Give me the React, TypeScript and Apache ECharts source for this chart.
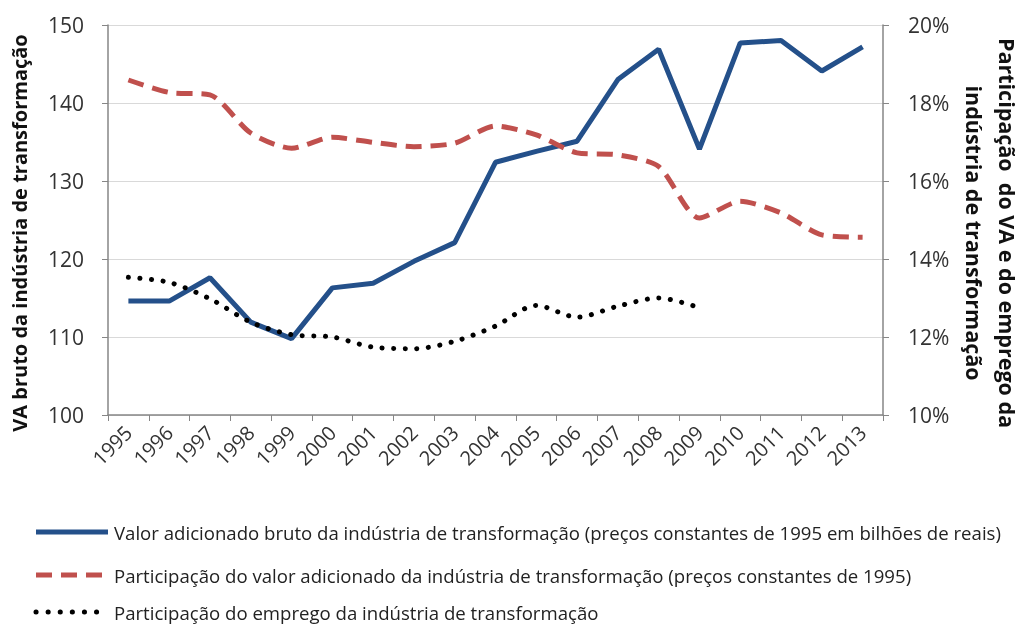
import React, { useEffect, useRef } from "react";
import * as echarts from "echarts";

const years = ["1995","1996","1997","1998","1999","2000","2001","2002","2003","2004","2005","2006","2007","2008","2009","2010","2011","2012","2013"];
const vaBruto = [114.6,114.6,117.6,111.9,109.8,116.3,116.9,119.7,122.1,132.4,133.8,135.1,143.0,146.9,134.1,147.7,148.0,144.1,147.2];
const partVA = [18.59,18.27,18.21,17.23,16.84,17.12,16.99,16.88,16.97,17.41,17.18,16.72,16.67,16.37,15.05,15.48,15.18,14.62,14.56];
const partEmprego = [13.53,13.40,12.98,12.38,12.06,12.00,11.74,11.70,11.89,12.28,12.81,12.51,12.79,13.00,12.75,null,null,null,null];
const leftTicks = { min: 100, max: 150, interval: 10 };
const rightTicks = { min: 10, max: 20, interval: 2 };
const names = [
  "Valor adicionado bruto da indústria de transformação (preços constantes de 1995 em bilhões de reais)",
  "Participação do valor adicionado da indústria de transformação (preços constantes de 1995)",
  "Participação do emprego da indústria de transformação",
];
const colors = ["#24508a", "#c0504d", "#000000"];
const dashes: (number[] | undefined)[] = [undefined, [16, 9], [0.1, 11.5]];

const FONT = "'Open Sans', Lato, sans-serif";

export default function App() {
  const ref = useRef<HTMLDivElement>(null);
  useEffect(() => {
    if (!ref.current) return;
    const chart = echarts.init(ref.current, null, { renderer: "svg" });
    const legendY = [532, 575, 612];
    const legendGraphics: any[] = [];
    names.forEach((n, i) => {
      legendGraphics.push({
        type: "line",
        shape: { x1: 36, y1: legendY[i], x2: 108, y2: legendY[i] },
        style: {
          stroke: colors[i],
          lineWidth: i === 2 ? 5 : 5,
          lineDash: i === 2 ? [0.1, 12] : dashes[i],
          lineCap: i === 2 ? "round" : "butt",
        },
      });
      legendGraphics.push({
        type: "text",
        x: 114,
        y: legendY[i],
        style: {
          text: n,
          font: `18.6px ${FONT}`,
          fill: "#222",
          align: "left",
          verticalAlign: "middle",
        },
      });
    });
    chart.setOption({
      animation: false,
      textStyle: { fontFamily: FONT },
      grid: { left: 108, right: 139, top: 25, bottom: 210, containLabel: false },
      xAxis: {
        type: "category",
        data: years,
        boundaryGap: true,
        axisLine: { lineStyle: { color: "#868686", width: 1.5 } },
        axisTick: { show: true, length: 6, lineStyle: { color: "#868686" } },
        axisLabel: { rotate: 45, fontSize: 20, color: "#333", margin: 14, interval: 0 },
        splitLine: { show: false },
      },
      yAxis: [
        {
          type: "value",
          position: "left",
          min: leftTicks.min,
          max: leftTicks.max,
          interval: leftTicks.interval,
          axisLine: { show: true, lineStyle: { color: "#868686", width: 1.5 } },
          axisTick: { show: true, length: 6, lineStyle: { color: "#868686" } },
          axisLabel: { fontSize: 21, color: "#333", margin: 24 },
          splitLine: { show: true, lineStyle: { color: "#d9d9d9", width: 1.2 } },
        },
        {
          type: "value",
          position: "right",
          min: rightTicks.min,
          max: rightTicks.max,
          interval: rightTicks.interval,
          axisLine: { show: true, lineStyle: { color: "#868686", width: 1.5 } },
          axisTick: { show: true, length: 6, lineStyle: { color: "#868686" } },
          axisLabel: { fontSize: 21, color: "#333", margin: 25, formatter: "{value}%" },
          splitLine: { show: false },
        },
      ],
      graphic: [
        {
          type: "text",
          x: 19,
          y: 233,
          rotation: Math.PI / 2,
          style: {
            text: "VA bruto da indústria de transformação",
            font: `bold 20px ${FONT}`,
            fill: "#111",
            align: "center",
            verticalAlign: "middle",
          },
        },
        {
          type: "text",
          x: 991,
          y: 233,
          rotation: -Math.PI / 2,
          style: {
            text: "Participação  do VA e do emprego da\nindústria de transformação",
            font: `bold 21.5px ${FONT}`,
            fill: "#111",
            align: "center",
            verticalAlign: "middle",
            lineHeight: 33,
          },
        },
        ...legendGraphics,
      ],
      series: [
        {
          name: names[0],
          type: "line",
          yAxisIndex: 0,
          data: vaBruto,
          symbol: "none",
          lineStyle: { color: colors[0], width: 5 },
        },
        {
          name: names[1],
          type: "line",
          yAxisIndex: 1,
          data: partVA,
          symbol: "none",
          smooth: 0.25,
          lineStyle: { color: colors[1], width: 5, type: dashes[1] },
        },
        {
          name: names[2],
          type: "line",
          yAxisIndex: 1,
          data: partEmprego,
          symbol: "none",
          smooth: 0.3,
          lineStyle: { color: colors[2], width: 5, type: dashes[2], cap: "round" },
        },
      ],
    });
    return () => chart.dispose();
  }, []);
  return <div ref={ref} style={{ position: "fixed", left: 0, top: 0, width: 1022, height: 625 }} />;
}
